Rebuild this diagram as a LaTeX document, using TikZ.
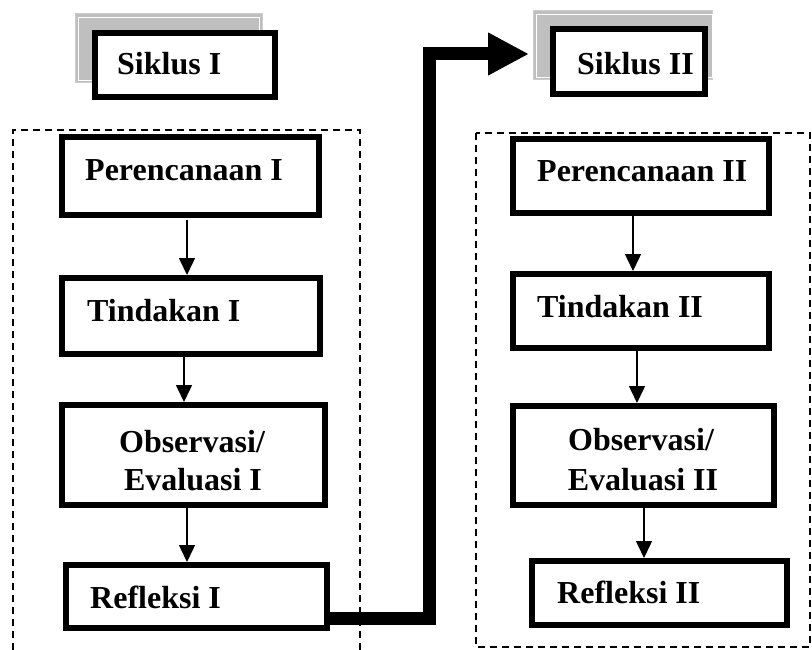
\documentclass[tikz,border=0pt]{standalone}
\usepackage{fontspec}
\setmainfont{Liberation Serif}
\usetikzlibrary{arrows.meta}
\begin{document}
\begin{tikzpicture}[x=1pt,y=-1pt,
  box/.style={draw=black,fill=white,line width=6pt,inner sep=0pt,outer sep=0pt},
  lbl/.style={anchor=base west,inner sep=0pt,font=\bfseries\fontsize{32}{38}\selectfont},
  clbl/.style={anchor=base,inner sep=0pt,font=\bfseries\fontsize{32}{38}\selectfont},
  arr/.style={line width=1.5pt,-{Triangle[length=17pt 0 0,width=16pt 0 0]}},
  dsh/.style={line width=1.2pt,dash pattern=on 7pt off 5pt},
  shadowbox/.style={fill=black!25,draw=black!20,line width=1pt}]
\useasboundingbox (0,0) rectangle (812,650);
% dashed frames
\draw[dsh] (13,650) -- (13,130) -- (360,130) -- (360,650);
\draw[dsh] (476,133) rectangle (810,647);
% shadow boxes
\draw[shadowbox] (75,14) rectangle (262,83);
\draw[white,line width=0.6pt] (78,17) rectangle (259,80);
\draw[shadowbox] (533,11) rectangle (712,80);
\draw[white,line width=0.6pt] (536,14) rectangle (712,77);
% boxes
\node[box,minimum width=180pt,minimum height=64pt] (s1) at (185,65) {};
\node[box,minimum width=152pt,minimum height=65pt] (s2) at (629,61.5) {};
\node[box,minimum width=257pt,minimum height=78pt] (p1) at (190.5,176) {};
\node[box,minimum width=258pt,minimum height=76pt] (t1) at (191,316) {};
\node[box,minimum width=263pt,minimum height=100pt] (o1) at (193.5,455) {};
\node[box,minimum width=261pt,minimum height=63pt] (r1) at (196.5,596.5) {};
\node[box,minimum width=256pt,minimum height=74pt] (p2) at (641,176) {};
\node[box,minimum width=256pt,minimum height=74pt] (t2) at (641,311) {};
\node[box,minimum width=261pt,minimum height=99pt] (o2) at (643.5,455.5) {};
\node[box,minimum width=255pt,minimum height=64pt] (r2) at (659.5,593) {};
% labels
\node[lbl] (ls1) at (117,75) {Siklus I};
\node[lbl] (ls2) at (577,75) {Siklus II};
\node[lbl] (lp1) at (85,181) {Perencanaan I};
\node[lbl] (lt1) at (87,321) {Tindakan I};
\node[clbl] (lo1a) at (192,452) {Observasi/};
\node[clbl] (lo1b) at (193,490) {Evaluasi I};
\node[lbl] (lr1) at (90,608) {Refleksi I};
\node[lbl] (lp2) at (537,182) {Perencanaan II};
\node[lbl] (lt2) at (537,317) {Tindakan II};
\node[clbl] (lo2a) at (641,450) {Observasi/};
\node[clbl] (lo2b) at (643,490) {Evaluasi II};
\node[lbl] (lr2) at (557,603) {Refleksi II};
% thin arrows
\draw[arr] ([yshift=-5pt]p1.south -| 187,0) -- ([yshift=3pt]t1.north -| 187,0);
\draw[arr] (t1.south -| 184,0) -- ([yshift=3pt]o1.north -| 184,0);
\draw[arr] (o1.south -| 187,0) -- ([yshift=3pt]r1.north -| 187,0);
\draw[arr] (p2.south -| 633,0) -- ([yshift=3pt]t2.north -| 633,0);
\draw[arr] (t2.south -| 637,0) -- ([yshift=3pt]o2.north -| 637,0);
\draw[arr] (o2.south -| 644,0) -- ([yshift=3pt]r2.north -| 644,0);
% thick connector
\coordinate (tip) at (529,54);
\draw[line width=13pt,line join=miter,-{Triangle[length=41pt 0 0,width=40pt 0 0]}]
  (r1.east |- 0,618) -- (429,618) -- (429,54) -- (tip);
\end{tikzpicture}
\end{document}
